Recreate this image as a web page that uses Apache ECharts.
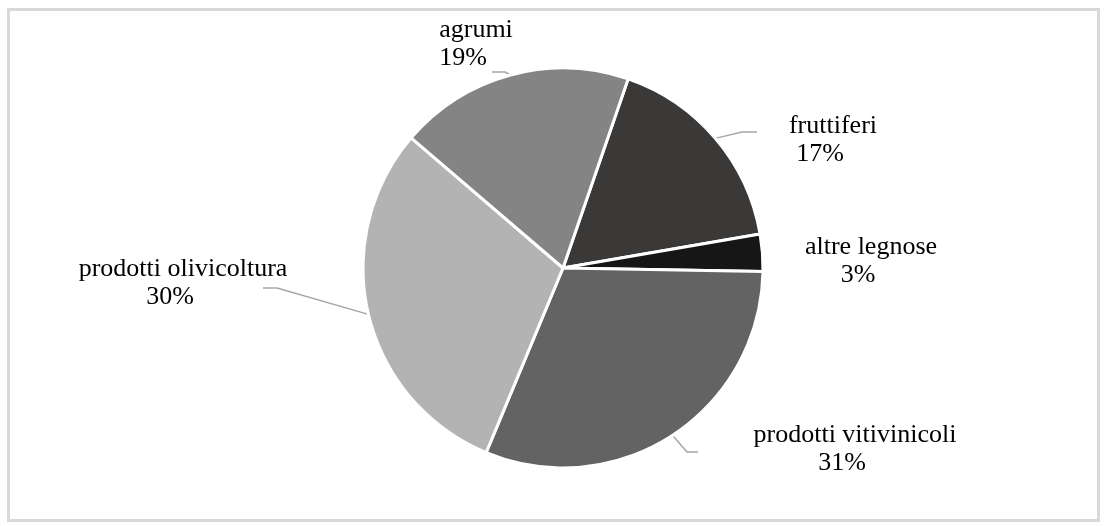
<!DOCTYPE html>
<html>
<head>
<meta charset="utf-8">
<script src="https://cdn.jsdelivr.net/npm/echarts@6/dist/echarts.min.js"></script>
<style>
  html, body { margin: 0; padding: 0; background: #ffffff; }
  #chart { width: 1105px; height: 526px; }
</style>
</head>
<body>
<div id="chart"></div>
<script>
// Composizione per tipo di coltura legnosa (quote percentuali)
const categories = ['fruttiferi', 'altre legnose', 'prodotti vitivinicoli', 'prodotti olivicoltura', 'agrumi'];
const shares = [17, 3, 31, 30, 19];
const sliceColors = ['#3a3938', '#161616', '#636363', '#b3b3b3', '#848484'];

// Impaginazione delle etichette: centro del blocco di testo
const labelSpots = [[833, 140], [871, 261], [855, 449], [183, 283], [476, 44]];
// Estremità delle linee guida (null = nessuna linea) e verso del tratto finale
const leaderEnds = [[757, 132], null, [698, 452], [263, 288], [492, 72]];
const leaderTail = [15, 0, 11, 14, 13];

const PIE_CENTER = [563, 268];
const PIE_RADIUS = 200;
const START_ANGLE = 71; // gradi, antiorario da ore 3 (convenzione ECharts)

// Punto sul bordo della fetta, a metà del suo angolo
const total = shares.reduce((a, b) => a + b, 0);
function sliceAnchor(idx) {
  let before = 0;
  for (let i = 0; i < idx; i++) before += shares[i];
  const midDeg = START_ANGLE - (before + shares[idx] / 2) / total * 360;
  const rad = midDeg * Math.PI / 180;
  return [PIE_CENTER[0] + PIE_RADIUS * Math.cos(rad), PIE_CENTER[1] - PIE_RADIUS * Math.sin(rad)];
}

const chart = echarts.init(document.getElementById('chart'), null, { renderer: 'canvas' });

const data = categories.map((name, i) => ({
  name: name,
  value: shares[i],
  itemStyle: { color: sliceColors[i] },
  labelLine: { show: leaderEnds[i] !== null }
}));

const textBase = { fontFamily: 'Liberation Serif', fontSize: 26, color: '#000000', lineHeight: 28, align: 'center' };

chart.setOption({
  animation: false,
  backgroundColor: '#ffffff',
  graphic: [{
    type: 'rect',
    shape: { x: 8.5, y: 9.5, width: 1090, height: 511 },
    style: { fill: 'none', stroke: '#d9d9d9', lineWidth: 3 },
    silent: true
  }],
  series: [{
    type: 'pie',
    center: PIE_CENTER,
    radius: PIE_RADIUS,
    startAngle: START_ANGLE,
    clockwise: true,
    data: data,
    itemStyle: { borderColor: '#ffffff', borderWidth: 3 },
    label: {
      show: true,
      position: 'outside',
      formatter: function (p) { return '{n|' + p.name + '}\n{p|' + p.value + '%}'; },
      align: 'center',
      rich: {
        n: Object.assign({}, textBase),
        p: Object.assign({}, textBase, { padding: [0, 26, 0, 0] })
      }
    },
    labelLine: {
      show: true,
      length: 8,
      length2: 8,
      lineStyle: { color: '#a6a6a6', width: 1.5 }
    },
    labelLayout: function (params) {
      const i = params.dataIndex;
      const spot = labelSpots[i];
      const out = { x: spot[0], y: spot[1], align: 'center', verticalAlign: 'middle' };
      const end = leaderEnds[i];
      if (end) {
        const a = sliceAnchor(i);
        const dir = end[0] < a[0] ? -1 : 1;
        const bend = [end[0] - dir * leaderTail[i], end[1]];
        out.labelLinePoints = [a, bend, end];
      }
      return out;
    },
    emphasis: { disabled: true }
  }]
});
</script>
</body>
</html>
